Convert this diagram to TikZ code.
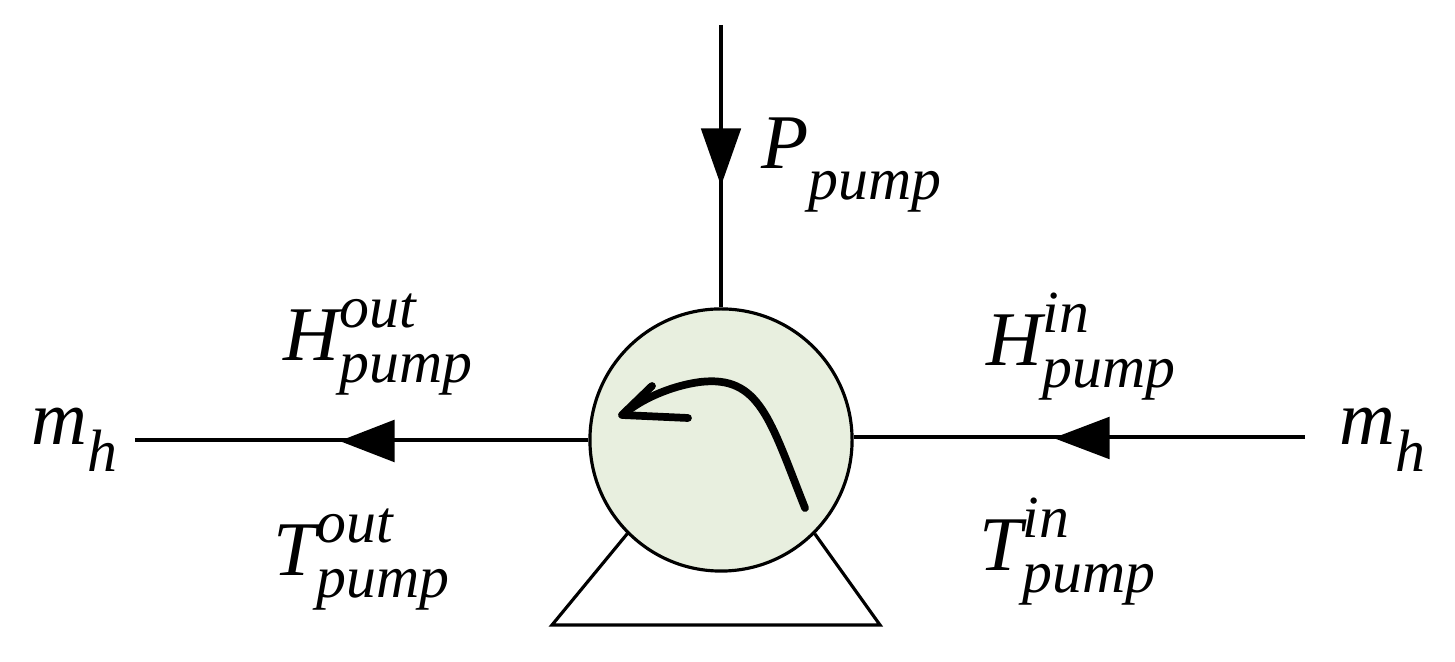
\documentclass[tikz,border=0pt]{standalone}
\usepackage{fontspec}
\setmainfont{Liberation Serif}
\newcommand{\sbs}{\fontsize{17}{19}\selectfont}
\newcommand{\supsub}[2]{\sbs\begin{tabular}[c]{@{}l@{}}\raisebox{0.1em}{#1}\\[-0.3em]#2\end{tabular}}
\begin{document}
\begin{tikzpicture}[x=0.01cm,y=-0.01cm,line width=0.9pt,
  lbl/.style={font=\fontsize{22}{26}\selectfont\itshape,inner sep=0},
  tri/.style={fill=black,draw=black}]
\useasboundingbox (0,0) rectangle (1455,662);
\node[circle,draw,fill={rgb,255:red,232;green,239;blue,223},minimum size=2.62cm,inner sep=0] (pump) at (721,440) {};
\coordinate (top) at (721,25);
\coordinate (lend) at (135,440);
\coordinate (rend) at (1305,437);
\draw (top) -- (pump.north);
\draw (pump.west) -- (lend);
\draw (rend) -- (pump.east |- rend);
\fill[tri] (703,130) -- (739,130) -- (721,181) -- cycle;
\fill[tri] (393,422) -- (393,460) -- (344,441) -- cycle;
\fill[tri] (1108,419) -- (1108,457) -- (1058,438) -- cycle;
\coordinate (bl) at (552,625); \coordinate (br) at (880,625);
\draw (pump.225) -- (bl) -- (br) -- (pump.-45);
\draw[line width=2.2pt,line cap=round] (805,508) .. controls (770,420) and (760,375) .. (700,382) .. controls (670,386) and (640,400) .. (624,414);
\draw[line width=2.2pt,line cap=round,line join=round] (652,386) -- (622,415) -- (688,418);
\node[lbl,anchor=west] (P) at (760,165) {P\raisebox{-0.4em}{\sbs pump}};
\node[lbl,anchor=west] (ml) at (30,440) {m\raisebox{-0.35em}{\sbs h}};
\node[lbl,anchor=west] (mr) at (1338,440) {m\raisebox{-0.35em}{\sbs h}};
\node[lbl,anchor=west] (Ho) at (282,345) {H\supsub{out}{pump}};
\node[lbl,anchor=west] (To) at (272,560) {T\supsub{out}{pump}};
\node[lbl,anchor=west] (Hi) at (985,350) {H\supsub{in}{pump}};
\node[lbl,anchor=west] (Ti) at (978,555) {T\supsub{in}{pump}};
\end{tikzpicture}
\end{document}
